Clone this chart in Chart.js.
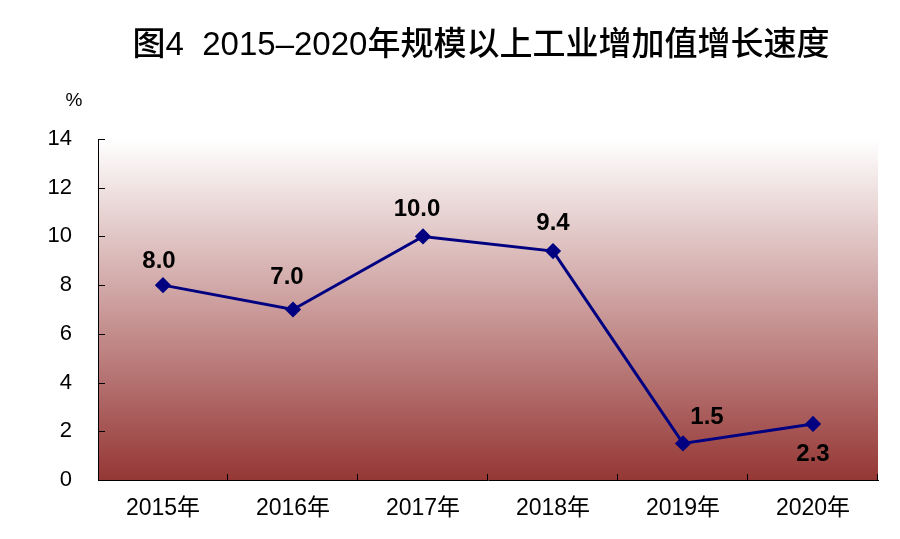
<!DOCTYPE html>
<html lang="zh">

<head>
    <meta charset="UTF-8">
    <title>图4 2015–2020年规模以上工业增加值增长速度</title>
    <script src="https://cdn.jsdelivr.net/npm/chart.js"></script>
    <style>
        body { margin: 0; background: #fff; }
        #wrap { width: 900px; height: 539px; }
    </style>
</head>

<body>
    <div id="wrap"><canvas id="growthChart" width="900" height="539"></canvas></div>

    <script>
        // Chart data
        const chartTitle = '图4  2015–2020年规模以上工业增加值增长速度';
        const years = ['2015年', '2016年', '2017年', '2018年', '2019年', '2020年'];
        const growth = [8.0, 7.0, 10.0, 9.4, 1.5, 2.3];
        const yTicks = [0, 2, 4, 6, 8, 10, 12, 14];

        const fontFamily = "'Liberation Sans', Arial, 'Noto Sans CJK SC', sans-serif";

        // Plot background: white at the top fading to dark red at the bottom
        const gradientBackground = {
            id: 'gradientBackground',
            beforeDraw(chart) {
                const { ctx, chartArea: a } = chart;
                const g = ctx.createLinearGradient(0, a.top, 0, a.bottom);
                g.addColorStop(0, '#ffffff');
                g.addColorStop(1, '#953735');
                ctx.save();
                ctx.fillStyle = g;
                ctx.fillRect(a.left, a.top, a.right - a.left, a.bottom - a.top);
                ctx.restore();
            }
        };

        // Title, inward tick marks, the % unit and the value labels
        const extras = {
            id: 'extras',
            // label nudges from each point (px)
            labelDx: [-4, -6, -6, 0, 24, 0],
            labelDy: [-24, -32, -27, -28, -26, 30],
            afterDraw(chart) {
                const { ctx, chartArea: a } = chart;
                const x = chart.scales.x, y = chart.scales.y;
                ctx.save();
                ctx.strokeStyle = '#000';
                ctx.lineWidth = 1;
                ctx.beginPath();
                yTicks.forEach(v => {
                    const py = Math.round(y.getPixelForValue(v)) + 0.5;
                    ctx.moveTo(a.left, py);
                    ctx.lineTo(a.left + 7, py);
                });
                for (let i = 0; i < years.length; i++) {
                    const px = i < years.length - 1
                        ? (x.getPixelForValue(i) + x.getPixelForValue(i + 1)) / 2
                        : a.right;
                    const rx = Math.round(px) - 0.5;
                    ctx.moveTo(rx, a.bottom);
                    ctx.lineTo(rx, a.bottom - 6);
                }
                ctx.stroke();

                ctx.fillStyle = '#000';
                ctx.textAlign = 'center';
                ctx.textBaseline = 'middle';

                ctx.font = '500 33px ' + fontFamily;
                ctx.fillText(chartTitle, 481, 46);

                ctx.font = '19px ' + fontFamily;
                ctx.fillText('%', 74, 101);

                ctx.font = 'bold 24px ' + fontFamily;
                const meta = chart.getDatasetMeta(0);
                meta.data.forEach((pt, i) => {
                    ctx.fillText(growth[i].toFixed(1), pt.x + this.labelDx[i], pt.y + this.labelDy[i]);
                });
                ctx.restore();
            }
        };

        const ctx = document.getElementById('growthChart').getContext('2d');
        const growthChart = new Chart(ctx, {
            type: 'line',
            data: {
                labels: years,
                datasets: [{
                    data: growth,
                    borderColor: '#000080',
                    backgroundColor: '#000080',
                    borderWidth: 3,
                    pointStyle: 'rectRot',
                    pointRadius: 6,
                    pointHoverRadius: 6,
                    tension: 0
                }]
            },
            options: {
                responsive: false,
                animation: false,
                devicePixelRatio: 1,
                layout: { padding: { top: 139, right: 22, bottom: 0, left: 0 } },
                plugins: {
                    legend: { display: false },
                    tooltip: { enabled: false },
                    title: { display: false }
                },
                scales: {
                    x: {
                        offset: true,
                        grid: { display: false, drawTicks: false },
                        border: { display: true, color: '#000', width: 1 },
                        ticks: { color: '#000', font: { family: fontFamily, size: 23 }, padding: 15, maxRotation: 0 },
                        afterFit(scale) { scale.height = 59; }
                    },
                    y: {
                        min: 0,
                        max: 14,
                        grid: { display: false, drawTicks: false },
                        border: { display: true, color: '#000', width: 1 },
                        ticks: {
                            stepSize: 2,
                            color: '#000',
                            font: { family: fontFamily, size: 22 },
                            padding: 26
                        },
                        afterFit(scale) { scale.width = 98; }
                    }
                }
            },
            plugins: [gradientBackground, extras]
        });
    </script>
</body>

</html>
